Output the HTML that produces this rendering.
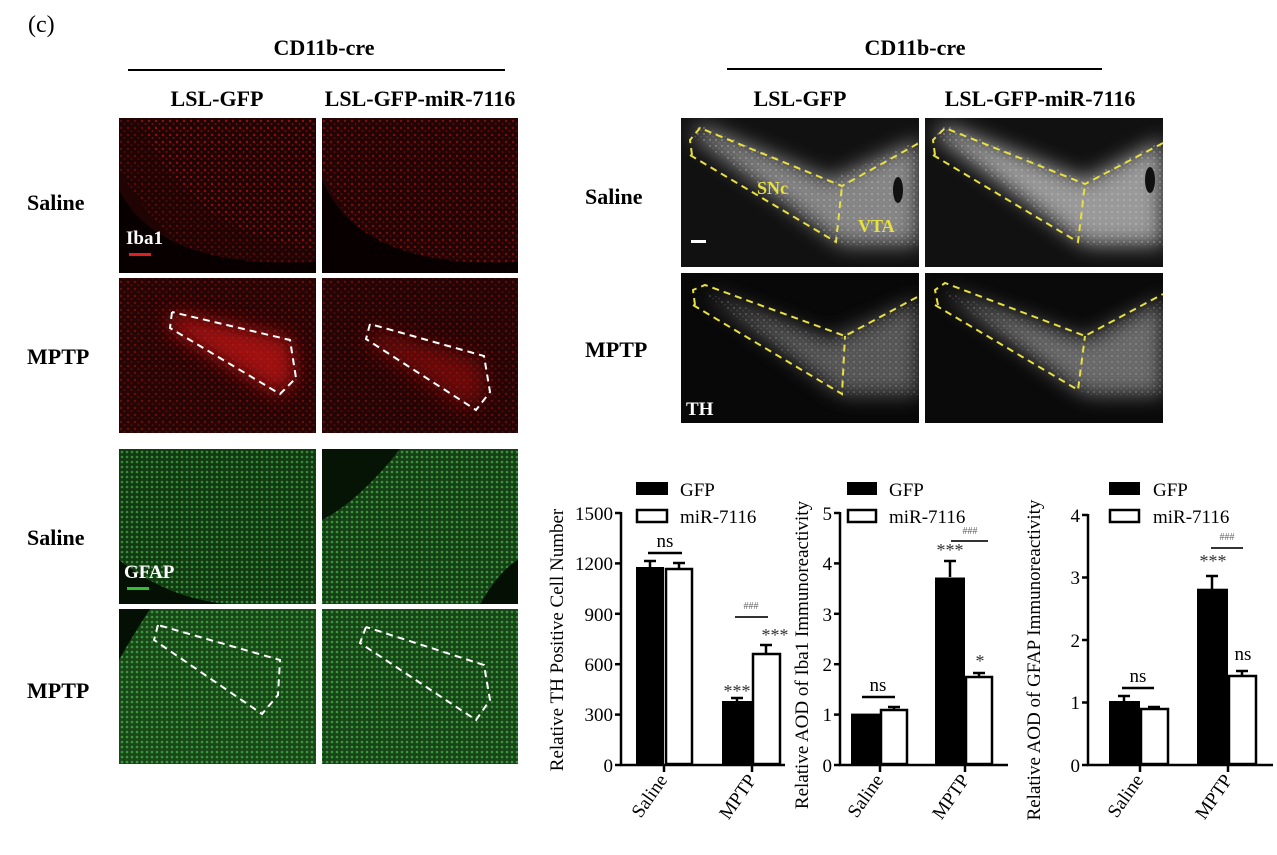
<!DOCTYPE html>
<html><head><meta charset="utf-8"><style>
body{margin:0;background:#fff}
svg{display:block}
text{font-family:"Liberation Serif",serif}
.b{font-weight:bold;font-size:22px}
.t{font-size:19px}
</style></head><body>
<svg width="1277" height="855" viewBox="0 0 1277 855" xmlns="http://www.w3.org/2000/svg">
<defs>
<filter id="bl" x="-30%" y="-30%" width="160%" height="160%"><feGaussianBlur stdDeviation="10"/></filter>
<clipPath id="c1"><rect x="681" y="118" width="238" height="149"/></clipPath>
<clipPath id="c2"><rect x="925" y="118" width="238" height="149"/></clipPath>
<clipPath id="c3"><rect x="681" y="273" width="238" height="150"/></clipPath>
<clipPath id="c4"><rect x="925" y="273" width="238" height="150"/></clipPath>
<pattern id="dr" width="7" height="7" patternUnits="userSpaceOnUse"><circle cx="2" cy="2" r="1.2" fill="#c01010"/><circle cx="5.5" cy="5" r="1" fill="#901010"/></pattern>
<pattern id="dg" width="5" height="5" patternUnits="userSpaceOnUse"><circle cx="2" cy="2" r="1.3" fill="#50c050"/></pattern>
<pattern id="dw" width="6" height="6" patternUnits="userSpaceOnUse"><circle cx="2" cy="2" r="1" fill="#ddd"/><circle cx="5" cy="4.5" r="0.8" fill="#999"/></pattern>
</defs>
<text x="28" y="32" font-size="24">(c)</text>
<text class="b" x="324" y="55" text-anchor="middle">CD11b-cre</text>
<line x1="128" y1="70" x2="505" y2="70" stroke="#000" stroke-width="2"/>
<text class="b" x="217" y="106" text-anchor="middle">LSL-GFP</text>
<text class="b" x="420" y="106" text-anchor="middle">LSL-GFP-miR-7116</text>
<text class="b" x="27" y="210">Saline</text>
<text class="b" x="27" y="364">MPTP</text>
<text class="b" x="27" y="545">Saline</text>
<text class="b" x="27" y="698">MPTP</text>

<!-- red panels -->
<g>
<rect x="119" y="118" width="197" height="155" fill="#200404"/>
<path d="M140,118 Q180,230 316,250 L316,118Z" fill="url(#dr)" opacity="0.55"/>
<path d="M119,118 L316,118 L316,273 L200,273 Q150,220 119,170Z" fill="url(#dr)" opacity="0.4"/>
<path d="M119,190 Q160,270 316,262 L316,273 L119,273Z" fill="#080000"/>
<text x="126" y="244" fill="#fff" font-weight="bold" font-size="19">Iba1</text>
<rect x="129" y="253" width="22" height="3" fill="#e02020"/>
<rect x="322" y="118" width="196" height="155" fill="#220404"/>
<path d="M322,118 L518,118 L518,273 L400,273 Q340,220 322,170Z" fill="url(#dr)" opacity="0.6"/>
<path d="M322,180 Q360,270 518,262 L518,273 L322,273Z" fill="#080000"/>
<rect x="119" y="278" width="197" height="155" fill="#260505"/>
<rect x="119" y="278" width="197" height="155" fill="url(#dr)" opacity="0.5"/>
<polygon points="170,313 290,338 296,378 280,395 170,330" fill="#d01515" filter="url(#bl)" opacity="0.7"/>
<polyline points="172,312 170,328 280,394 296,378 290,340 172,312" fill="none" stroke="#fff" stroke-width="2" stroke-dasharray="7,5"/>
<rect x="322" y="278" width="196" height="155" fill="#240505"/>
<rect x="322" y="278" width="196" height="155" fill="url(#dr)" opacity="0.45"/>
<polygon points="370,330 480,360 486,390 470,410 370,345" fill="#b01010" filter="url(#bl)" opacity="0.5"/>
<polyline points="370,324 366,339 476,410 490,392 484,356 370,324" fill="none" stroke="#fff" stroke-width="2" stroke-dasharray="7,5"/>
</g>
<!-- green panels -->
<g>
<rect x="119" y="449" width="197" height="155" fill="#123a12"/>
<rect x="119" y="449" width="197" height="155" fill="url(#dg)" opacity="0.6"/>
<path d="M119,560 Q170,600 230,604 L119,604Z" fill="#041004"/>
<text x="124" y="578" fill="#fff" font-weight="bold" font-size="19">GFAP</text>
<rect x="127" y="587" width="22" height="3" fill="#30c030"/>
<rect x="322" y="449" width="196" height="155" fill="#154015"/>
<rect x="322" y="449" width="196" height="155" fill="url(#dg)" opacity="0.65"/>
<path d="M322,449 L400,449 Q360,500 322,520Z" fill="#061406"/>
<path d="M480,604 Q500,570 518,560 L518,604Z" fill="#041004"/>
<rect x="119" y="609" width="197" height="155" fill="#184818"/>
<rect x="119" y="609" width="197" height="155" fill="url(#dg)" opacity="0.65"/>
<path d="M119,609 L150,609 Q130,640 119,660Z" fill="#041004"/>
<polyline points="158,625 154,640 262,714 278,695 280,660 158,625" fill="none" stroke="#fff" stroke-width="2" stroke-dasharray="7,5"/>
<rect x="322" y="609" width="196" height="155" fill="#174517"/>
<rect x="322" y="609" width="196" height="155" fill="url(#dg)" opacity="0.65"/>
<polyline points="366,627 360,643 476,720 490,700 484,665 366,627" fill="none" stroke="#fff" stroke-width="2" stroke-dasharray="7,5"/>
</g>

<!-- right gray section -->
<text class="b" x="915" y="55" text-anchor="middle">CD11b-cre</text>
<line x1="727" y1="69" x2="1102" y2="69" stroke="#000" stroke-width="2"/>
<text class="b" x="800" y="106" text-anchor="middle">LSL-GFP</text>
<text class="b" x="1040" y="106" text-anchor="middle">LSL-GFP-miR-7116</text>
<text class="b" x="585" y="204">Saline</text>
<text class="b" x="585" y="357">MPTP</text>
<g>
<rect x="681" y="118" width="238" height="149" fill="#111"/>
<g clip-path="url(#c1)">
<polygon points="692,135 700,125 830,180 919,140 919,245 845,245 835,240" fill="#9a9a9a" filter="url(#bl)" opacity="0.85"/>
<polygon points="692,135 700,125 830,180 919,140 919,245 845,245 835,240" fill="url(#dw)" opacity="0.35"/>
</g>
<polyline points="692,155 690,140 700,128 842,186 919,143" fill="none" stroke="#e8e040" stroke-width="2" stroke-dasharray="7,5"/>
<polyline points="690,155 836,242 842,186 M836,242 919,244" fill="none" stroke="#e8e040" stroke-width="2" stroke-dasharray="7,5"/>
<text x="757" y="194" fill="#e8e040" font-weight="bold" font-size="18">SNc</text>
<text x="858" y="232" fill="#e8e040" font-weight="bold" font-size="18">VTA</text>
<ellipse cx="898" cy="190" rx="5" ry="13" fill="#111"/>
<rect x="691" y="240" width="15" height="3" fill="#fff"/>
<rect x="925" y="118" width="238" height="149" fill="#111"/>
<g clip-path="url(#c2)">
<polygon points="935,135 945,125 1085,180 1163,140 1163,245 1090,245 1078,240" fill="#a8a8a8" filter="url(#bl)" opacity="0.9"/>
<polygon points="935,135 945,125 1085,180 1163,140 1163,245 1090,245 1078,240" fill="url(#dw)" opacity="0.35"/>
</g>
<polyline points="935,155 933,140 945,128 1085,184 1163,143" fill="none" stroke="#e8e040" stroke-width="2" stroke-dasharray="7,5"/>
<polyline points="933,155 1078,242 1085,184 M1078,242 1163,242" fill="none" stroke="#e8e040" stroke-width="2" stroke-dasharray="7,5"/>
<ellipse cx="1150" cy="180" rx="5" ry="13" fill="#111"/>
<rect x="681" y="273" width="238" height="150" fill="#080808"/>
<g clip-path="url(#c3)">
<polygon points="700,290 830,340 919,300 919,395 845,395 835,390" fill="#6a6a6a" filter="url(#bl)" opacity="0.8"/>
<polygon points="700,290 830,340 919,300 919,395 845,395 835,390" fill="url(#dw)" opacity="0.25"/>
</g>
<polyline points="695,305 693,290 705,285 845,336 919,296" fill="none" stroke="#e8e040" stroke-width="2" stroke-dasharray="7,5"/>
<polyline points="693,305 842,394 845,336 M842,394 919,396" fill="none" stroke="#e8e040" stroke-width="2" stroke-dasharray="7,5"/>
<text x="686" y="415" fill="#fff" font-weight="bold" font-size="19">TH</text>
<rect x="925" y="273" width="238" height="150" fill="#0a0a0a"/>
<g clip-path="url(#c4)">
<polygon points="940,290 1085,340 1163,300 1163,395 1090,395 1078,390" fill="#7a7a7a" filter="url(#bl)" opacity="0.85"/>
<polygon points="940,290 1085,340 1163,300 1163,395 1090,395 1078,390" fill="url(#dw)" opacity="0.25"/>
</g>
<polyline points="938,305 935,290 945,283 1085,336 1163,294" fill="none" stroke="#e8e040" stroke-width="2" stroke-dasharray="7,5"/>
<polyline points="935,305 1078,390 1085,336 M1078,390 1163,390" fill="none" stroke="#e8e040" stroke-width="2" stroke-dasharray="7,5"/>
</g>

<!-- Chart 1 -->
<g stroke="#000" stroke-width="2.5" fill="none">
<line x1="621" y1="512" x2="621" y2="766"/>
<line x1="620" y1="765" x2="785" y2="765"/>
<line x1="615" y1="765" x2="621" y2="765"/><line x1="615" y1="714.6" x2="621" y2="714.6"/><line x1="615" y1="664.2" x2="621" y2="664.2"/><line x1="615" y1="613.8" x2="621" y2="613.8"/><line x1="615" y1="563.4" x2="621" y2="563.4"/><line x1="615" y1="513" x2="621" y2="513"/>
<line x1="664" y1="765" x2="664" y2="772"/><line x1="752" y1="765" x2="752" y2="772"/>
</g>
<text x="613" y="772" text-anchor="end" class="t">0</text><text x="613" y="721" text-anchor="end" class="t">300</text><text x="613" y="671" text-anchor="end" class="t">600</text><text x="613" y="621" text-anchor="end" class="t">900</text><text x="613" y="570" text-anchor="end" class="t">1200</text><text x="613" y="520" text-anchor="end" class="t">1500</text>
<rect x="636" y="567" width="28" height="198" fill="#000"/>
<rect x="666" y="569" width="26" height="195" fill="#fff" stroke="#000" stroke-width="2.5"/>
<rect x="722" y="701" width="30" height="64" fill="#000"/>
<rect x="753" y="654" width="27" height="110" fill="#fff" stroke="#000" stroke-width="2.5"/>
<g stroke="#000" stroke-width="2.5">
<line x1="650" y1="567" x2="650" y2="561"/><line x1="644" y1="561" x2="656" y2="561"/>
<line x1="679" y1="569" x2="679" y2="563"/><line x1="673" y1="563" x2="685" y2="563"/>
<line x1="737" y1="701" x2="737" y2="698"/><line x1="731" y1="698" x2="743" y2="698"/>
<line x1="766" y1="654" x2="766" y2="645"/><line x1="760" y1="645" x2="772" y2="645"/>
<line x1="648" y1="553" x2="682" y2="553"/>
</g>
<line x1="735" y1="617" x2="768" y2="617" stroke="#333" stroke-width="2"/>
<text x="665" y="547" text-anchor="middle" class="t">ns</text>
<text x="751" y="609" text-anchor="middle" font-size="10" fill="#666">###</text>
<text x="737" y="697" text-anchor="middle" font-size="18" fill="#333">***</text>
<text x="775" y="641" text-anchor="middle" font-size="18" fill="#333">***</text>
<text transform="translate(563,640) rotate(-90)" text-anchor="middle" class="t">Relative TH Positive Cell Number</text>
<text transform="translate(668,780) rotate(-55)" text-anchor="end" class="t">Saline</text>
<text transform="translate(757,780) rotate(-55)" text-anchor="end" class="t">MPTP</text>
<rect x="636" y="482" width="32" height="13" fill="#000"/>
<rect x="637" y="510" width="30" height="12" fill="#fff" stroke="#000" stroke-width="2.5"/>
<text x="680" y="496" class="t">GFP</text><text x="680" y="523" class="t">miR-7116</text>

<!-- Chart 2 -->
<g stroke="#000" stroke-width="2.5" fill="none">
<line x1="840" y1="512" x2="840" y2="766"/>
<line x1="839" y1="765" x2="1008" y2="765"/>
<line x1="834" y1="765" x2="840" y2="765"/><line x1="834" y1="714.6" x2="840" y2="714.6"/><line x1="834" y1="664.2" x2="840" y2="664.2"/><line x1="834" y1="613.8" x2="840" y2="613.8"/><line x1="834" y1="563.4" x2="840" y2="563.4"/><line x1="834" y1="513" x2="840" y2="513"/>
<line x1="880" y1="765" x2="880" y2="772"/><line x1="965" y1="765" x2="965" y2="772"/>
</g>
<text x="832" y="772" text-anchor="end" class="t">0</text><text x="832" y="721" text-anchor="end" class="t">1</text><text x="832" y="671" text-anchor="end" class="t">2</text><text x="832" y="621" text-anchor="end" class="t">3</text><text x="832" y="570" text-anchor="end" class="t">4</text><text x="832" y="520" text-anchor="end" class="t">5</text>
<rect x="851" y="713.6" width="29" height="51.4" fill="#000"/>
<rect x="881" y="710" width="26" height="54" fill="#fff" stroke="#000" stroke-width="2.5"/>
<rect x="935" y="577.5" width="30" height="187.5" fill="#000"/>
<rect x="966" y="677" width="26" height="87" fill="#fff" stroke="#000" stroke-width="2.5"/>
<g stroke="#000" stroke-width="2.5">
<line x1="894" y1="710" x2="894" y2="707"/><line x1="888" y1="707" x2="900" y2="707"/>
<line x1="950" y1="577" x2="950" y2="561"/><line x1="944" y1="561" x2="956" y2="561"/>
<line x1="979" y1="677" x2="979" y2="673"/><line x1="973" y1="673" x2="985" y2="673"/>
<line x1="862" y1="697" x2="895" y2="697"/>
</g>
<line x1="951" y1="541" x2="988" y2="541" stroke="#333" stroke-width="2"/>
<text x="878" y="691" text-anchor="middle" class="t">ns</text>
<text x="970" y="534" text-anchor="middle" font-size="10" fill="#666">###</text>
<text x="950" y="556" text-anchor="middle" font-size="18" fill="#333">***</text>
<text x="980" y="667" text-anchor="middle" font-size="18" fill="#333">*</text>
<text transform="translate(808,655) rotate(-90)" text-anchor="middle" class="t">Relative AOD of Iba1 Immunoreactivity</text>
<text transform="translate(884,780) rotate(-55)" text-anchor="end" class="t">Saline</text>
<text transform="translate(970,780) rotate(-55)" text-anchor="end" class="t">MPTP</text>
<rect x="847" y="482" width="30" height="13" fill="#000"/>
<rect x="848" y="510" width="28" height="12" fill="#fff" stroke="#000" stroke-width="2.5"/>
<text x="889" y="496" class="t">GFP</text><text x="889" y="523" class="t">miR-7116</text>

<!-- Chart 3 -->
<g stroke="#000" stroke-width="2.5" fill="none">
<line x1="1088" y1="514" x2="1088" y2="766"/>
<line x1="1087" y1="765" x2="1273" y2="765"/>
<line x1="1082" y1="765" x2="1088" y2="765"/><line x1="1082" y1="702.5" x2="1088" y2="702.5"/><line x1="1082" y1="640" x2="1088" y2="640"/><line x1="1082" y1="577.5" x2="1088" y2="577.5"/><line x1="1082" y1="515" x2="1088" y2="515"/>
<line x1="1140" y1="765" x2="1140" y2="772"/><line x1="1228" y1="765" x2="1228" y2="772"/>
</g>
<text x="1080" y="772" text-anchor="end" class="t">0</text><text x="1080" y="709" text-anchor="end" class="t">1</text><text x="1080" y="647" text-anchor="end" class="t">2</text><text x="1080" y="584" text-anchor="end" class="t">3</text><text x="1080" y="522" text-anchor="end" class="t">4</text>
<rect x="1109" y="701" width="31" height="64" fill="#000"/>
<rect x="1141" y="709" width="27" height="55" fill="#fff" stroke="#000" stroke-width="2.5"/>
<rect x="1197" y="588.7" width="31" height="176.3" fill="#000"/>
<rect x="1229" y="676" width="27" height="88" fill="#fff" stroke="#000" stroke-width="2.5"/>
<g stroke="#000" stroke-width="2.5">
<line x1="1124" y1="701" x2="1124" y2="696"/><line x1="1118" y1="696" x2="1130" y2="696"/>
<line x1="1154" y1="709" x2="1154" y2="707"/><line x1="1148" y1="707" x2="1160" y2="707"/>
<line x1="1212" y1="589" x2="1212" y2="576"/><line x1="1206" y1="576" x2="1218" y2="576"/>
<line x1="1242" y1="676" x2="1242" y2="671"/><line x1="1236" y1="671" x2="1248" y2="671"/>
<line x1="1122" y1="688" x2="1154" y2="688"/>
</g>
<line x1="1211" y1="548" x2="1243" y2="548" stroke="#333" stroke-width="2"/>
<text x="1138" y="682" text-anchor="middle" class="t">ns</text>
<text x="1227" y="540" text-anchor="middle" font-size="10" fill="#666">###</text>
<text x="1213" y="567" text-anchor="middle" font-size="18" fill="#333">***</text>
<text x="1243" y="660" text-anchor="middle" class="t">ns</text>
<text transform="translate(1040,660) rotate(-90)" text-anchor="middle" class="t">Relative AOD of GFAP Immunoreactivity</text>
<text transform="translate(1144,780) rotate(-55)" text-anchor="end" class="t">Saline</text>
<text transform="translate(1233,780) rotate(-55)" text-anchor="end" class="t">MPTP</text>
<rect x="1109" y="482" width="31" height="13" fill="#000"/>
<rect x="1110" y="510" width="29" height="12" fill="#fff" stroke="#000" stroke-width="2.5"/>
<text x="1153" y="496" class="t">GFP</text><text x="1153" y="523" class="t">miR-7116</text>
</svg>
</body></html>
